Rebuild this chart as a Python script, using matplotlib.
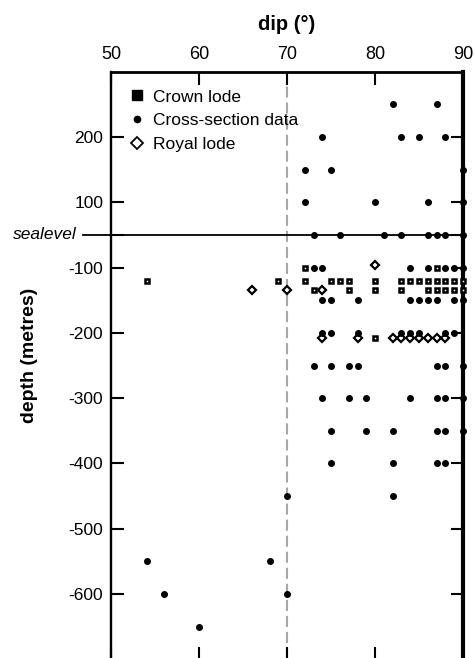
import matplotlib
matplotlib.use("Agg")
import matplotlib.pyplot as plt
from matplotlib.lines import Line2D
import numpy as np

plt.rcParams['font.family'] = ['Liberation Sans', 'DejaVu Sans']

# cross-section data: dip in degrees, depth in metres (0 = sealevel)
xs_dip = [82, 87,
          74, 83, 85, 88,
          72, 75, 90,
          72, 80, 86, 90,
          73, 76, 81, 83, 86, 87, 88, 90,
          73, 74, 84, 86, 88, 89, 90,
          74, 75, 78, 84, 85, 86, 87, 89, 90,
          74, 75, 78, 83, 84, 85, 88, 89,
          73, 75, 77, 78, 87, 88, 90,
          74, 77, 79, 84, 87, 88, 90,
          75, 79, 82, 87, 88, 90,
          75, 82, 87, 88,
          70, 82,
          54, 68,
          56, 70,
          60]
xs_depth = [250, 250,
            200, 200, 200, 200,
            150, 150, 150,
            100, 100, 100, 100,
            0, 0, 0, 0, 0, 0, 0, 0,
            -100, -100, -100, -100, -100, -100, -100,
            -150, -150, -150, -150, -150, -150, -150, -150, -150,
            -200, -200, -200, -200, -200, -200, -200, -200,
            -250, -250, -250, -250, -250, -250, -250,
            -300, -300, -300, -300, -300, -300, -300,
            -350, -350, -350, -350, -350, -350,
            -400, -400, -400, -400,
            -450, -450,
            -550, -550,
            -600, -600,
            -650]

crown_dip = [72, 87,
             54, 69, 72, 75, 76, 77, 80, 83, 84, 85, 86, 87, 88, 89, 90,
             73, 77, 80, 83, 86, 87, 88, 89, 90,
             80]
crown_depth = [-100, -100,
               -120, -120, -120, -120, -120, -120, -120, -120, -120, -120,
               -120, -120, -120, -120, -120,
               -135, -135, -135, -135, -135, -135, -135, -135, -135,
               -208]

royal_dip = [80, 66, 70, 74, 74, 78, 82, 83, 84, 85, 86, 87, 88]
royal_depth = [-96, -135, -135, -135, -208, -208, -208, -208, -208, -208,
               -208, -208, -208]

dip_ticks = [50, 60, 70, 80, 90]
depth_ticks = [200, 100, 0, -100, -200, -300, -400, -500, -600]
depth_labels = ['200', '100', '', '-100', '-200', '-300', '-400', '-500', '-600']


def squash(d):
    # the band between +100 m and -100 m is drawn as one grid step,
    # sealevel sits half way
    d = np.asarray(d, dtype=float)
    return np.where(d > 0, d, np.where(d < 0, d + 100, 50))


fig = plt.figure(figsize=(4.74, 6.58), dpi=100)
ax = fig.add_axes([0.2352, -0.002, 0.7416, 0.893])

ax.axvline(70, color='#a6a6a6', lw=1.5, dashes=(5.3, 2.4), zorder=1)
ax.plot([-0.081, 1], [squash(0), squash(0)], color='k', lw=1.3,
        transform=ax.get_yaxis_transform(), clip_on=False, zorder=2)

ax.plot(xs_dip, squash(xs_depth), ls='none', marker='o', ms=4,
        color='k', clip_on=False, zorder=4)
ax.plot(crown_dip, squash(crown_depth), ls='none', marker='s', ms=3.2,
        mfc='white', mec='k', mew=1.8, clip_on=False, zorder=3)
ax.plot(royal_dip, squash(royal_depth), ls='none', marker='D', ms=3.6,
        mfc='white', mec='k', mew=1.6, clip_on=False, zorder=3)

ax.set_xlim(50, 90)
ax.set_ylim(-600, 300)
ax.set_xticks(dip_ticks)
ax.set_yticks(squash(depth_ticks))
ax.set_yticklabels(depth_labels)
ax.text(-0.098, squash(0), 'sealevel', style='italic', fontsize=12.5,
        ha='right', va='center', transform=ax.get_yaxis_transform())

ax.xaxis.tick_top()
ax.tick_params(axis='x', which='both', direction='in', top=True, bottom=True,
               labeltop=True, labelbottom=False, length=9, width=1.5,
               pad=6, labelsize=13)
ax.tick_params(axis='y', direction='in', left=True, right=True,
               labelleft=True, labelright=False, length=9, width=1.5,
               pad=6, labelsize=12.5)

ax.spines['bottom'].set_visible(False)
ax.spines['left'].set_linewidth(1.7)
ax.spines['top'].set_linewidth(2)
ax.spines['right'].set_linewidth(3)

fig.text(287 / 474, 1 - 25 / 658, 'dip (°)', fontsize=14.5,
         fontweight='bold', ha='center', va='center')
fig.text(30 / 474, 1 - 355 / 658, 'depth (metres)', fontsize=14,
         fontweight='bold', rotation=90, ha='center', va='center')

handles = [
    Line2D([], [], ls='none', marker='s', ms=6.5, color='k'),
    Line2D([], [], ls='none', marker='o', ms=4.5, color='k'),
    Line2D([], [], ls='none', marker='D', ms=6, mfc='white', mec='k', mew=1.3),
]
ax.legend(handles, ['Crown lode', 'Cross-section data', 'Royal lode'],
          loc='upper left', bbox_to_anchor=(0.048, 0.97), frameon=False,
          fontsize=12.5, handlelength=1, handletextpad=0.4,
          labelspacing=0.5, borderaxespad=0, borderpad=0)

fig.savefig('out.png', dpi=100)
